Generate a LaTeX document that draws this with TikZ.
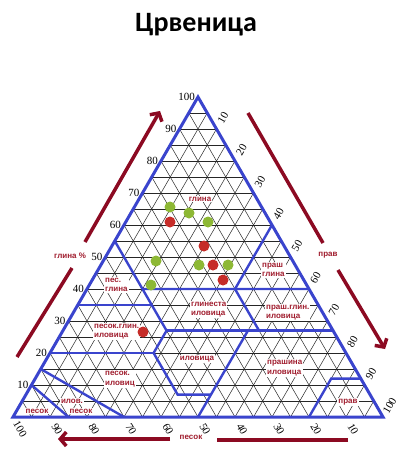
\documentclass[tikz,border=0pt]{standalone}
\usepackage{fontspec}
\setmainfont{Liberation Serif}
\newfontfamily\labelfont{Liberation Sans}
\newfontfamily\titlefont{Carlito}
\usetikzlibrary{arrows.meta}
\definecolor{edgeblue}{RGB}{58,68,205}
\definecolor{arrowred}{RGB}{140,10,34}
\definecolor{textred}{RGB}{160,28,45}
\definecolor{dotgreen}{RGB}{141,184,52}
\definecolor{dotred}{RGB}{198,44,40}

\begin{document}
\begin{tikzpicture}[x=1pt,y=1pt,
    gridln/.style={black!85,line width=0.5pt},
    border/.style={edgeblue,line width=3pt},
    zone/.style={edgeblue,line width=2.4pt},
    num/.style={font=\fontsize{11}{11}\selectfont,inner sep=0pt},
    zonetxt/.style={font=\labelfont\bfseries\fontsize{8}{9.5}\selectfont,text=textred,fill=white,inner sep=1pt,align=left},
    axis/.style={arrowred,line width=3.5pt},
    axistip/.style={axis,-{Straight Barb[length=6pt,width=14pt]}},
    gdot/.style={circle,fill=dotgreen,minimum size=11pt,inner sep=0pt},
    rdot/.style={circle,fill=dotred,minimum size=11pt,inner sep=0pt}]
    \useasboundingbox (0,0) rectangle (398,-450);
    % corners: clay, sand, silt
    \coordinate (cl) at (198,-97);
    \coordinate (sa) at (13,-417);
    \coordinate (si) at (383,-417);
    \node[font=\titlefont\bfseries\fontsize{28}{30}\selectfont,anchor=base] (title) at (196,-31) {Црвеница};
    % grid
    \foreach \i [evaluate=\i as \a using \i/100, evaluate=\i as \b using 1-\i/100] in {5,10,...,95} {
        \draw[gridln] (barycentric cs:cl=\a,sa=\b) -- (barycentric cs:cl=\a,si=\b);
        \draw[gridln] (barycentric cs:sa=\a,si=\b) -- (barycentric cs:sa=\a,cl=\b);
        \draw[gridln] (barycentric cs:si=\a,sa=\b) -- (barycentric cs:si=\a,cl=\b);
    }
    % scale numbers
    \foreach \i [evaluate=\i as \a using \i/100, evaluate=\i as \b using 1-\i/100] in {10,20,...,100} {
        \node[num,anchor=east] (ncl\i) at ([xshift=-3pt]barycentric cs:cl=\a,sa=\b) {\i};
        \node[num,rotate=60] (nsi\i) at ([shift={(60:13pt)}]barycentric cs:si=\a,cl=\b) {\i};
        \node[num,rotate=-60] (nsa\i) at ([shift={(-60:14pt)}]barycentric cs:sa=\a,si=\b) {\i};
    }
    % class names
    \node[zonetxt] (clay) at (200,-199) {глина};
    \node[zonetxt,anchor=west] (sclay) at (104,-285) {пес.\\глина};
    \node[zonetxt,anchor=west] (sicl) at (261,-270) {праш\\глина};
    \node[zonetxt,anchor=west] (cloam) at (190,-309.5) {глинеста\\иловица};
    \node[zonetxt,anchor=west] (scloam) at (93,-331.5) {песок.глин.\\иловица};
    \node[zonetxt,anchor=west] (sicloam) at (265,-312.5) {праш.глин.\\иловица};
    \node[zonetxt] (loam) at (197,-359) {иловица};
    \node[zonetxt,anchor=west] (sloam) at (104,-379) {песок.\\иловиц};
    \node[zonetxt,anchor=west] (siloam) at (266,-368) {прашина\\иловица};
    \node[zonetxt] (silt) at (348,-402) {прав};
    \node[zonetxt] (lsand1) at (72,-401) {илов.};
    \node[zonetxt] (lsand2) at (81,-411) {песок};
    \node[zonetxt] (sand) at (37,-411) {песок};
    % class boundaries
    \draw[zone] (barycentric cs:cl=.35,sa=.65) -- (barycentric cs:cl=.35,sa=.45,si=.20);
    \draw[zone] (barycentric cs:cl=.55,sa=.45) -- (barycentric cs:cl=.27,sa=.45,si=.28);
    \draw[zone] (barycentric cs:cl=.40,sa=.45,si=.15) -- (barycentric cs:cl=.40,si=.60);
    \draw[zone] (barycentric cs:cl=.60,si=.40) -- (barycentric cs:cl=.40,sa=.20,si=.40)
        -- (barycentric cs:cl=.27,sa=.20,si=.53);
    \draw[zone] (barycentric cs:cl=.27,sa=.45,si=.28) -- (barycentric cs:cl=.27,si=.73);
    \draw[zone] (barycentric cs:cl=.27,sa=.45,si=.28) -- (barycentric cs:cl=.20,sa=.52,si=.28)
        -- (barycentric cs:cl=.07,sa=.52,si=.41) -- (barycentric cs:cl=.07,sa=.43,si=.50);
    \draw[zone] (barycentric cs:cl=.20,sa=.80) -- (barycentric cs:cl=.20,sa=.52,si=.28);
    \draw[zone] (barycentric cs:cl=.27,sa=.23,si=.50) -- (barycentric cs:sa=.50,si=.50);
    \draw[zone] (barycentric cs:sa=.20,si=.80) -- (barycentric cs:cl=.12,sa=.08,si=.80)
        -- (barycentric cs:cl=.12,si=.88);
    \draw[zone] (barycentric cs:cl=.15,sa=.85) -- (barycentric cs:sa=.70,si=.30);
    \draw[zone] (barycentric cs:cl=.10,sa=.90) -- (barycentric cs:sa=.85,si=.15);
    \draw[border] (cl) -- (sa) -- (si) -- cycle;
    % samples
    \foreach \x/\y [count=\k] in {170/207,189/213,208/222,156/261,199/265,228/265,151/285}
        \node[gdot] (g\k) at (\x,-\y) {};
    \foreach \x/\y [count=\k] in {170/222,204/246,213/265,223/280,143/332}
        \node[rdot] (r\k) at (\x,-\y) {};
    % axis arrows
    \coordinate (la) at (17,-357);
    \coordinate (lb) at (72,-268);
    \coordinate (lc) at (85,-242);
    \coordinate (ld) at (160,-111);
    \node[zonetxt] (claylbl) at (70,-256) {глина \%};
    \draw[axis] (la) -- (lb);
    \draw[axistip] (lc) -- (ld);
    \coordinate (ra) at (248,-113);
    \coordinate (rb) at (323,-243);
    \coordinate (rc) at (338,-270);
    \coordinate (rd) at (385,-349);
    \node[zonetxt] (siltlbl) at (328,-255) {прав};
    \draw[axis] (ra) -- (rb);
    \draw[axistip] (rc) -- (rd);
    \coordinate (ba) at (348,-440);
    \coordinate (bb) at (217,-440);
    \coordinate (bc) at (170,-439);
    \coordinate (bd) at (58,-439);
    \node[zonetxt] (sandlbl) at (191,-437) {песок};
    \draw[axis] (ba) -- (bb);
    \draw[axistip] (bc) -- (bd);
\end{tikzpicture}
\end{document}
